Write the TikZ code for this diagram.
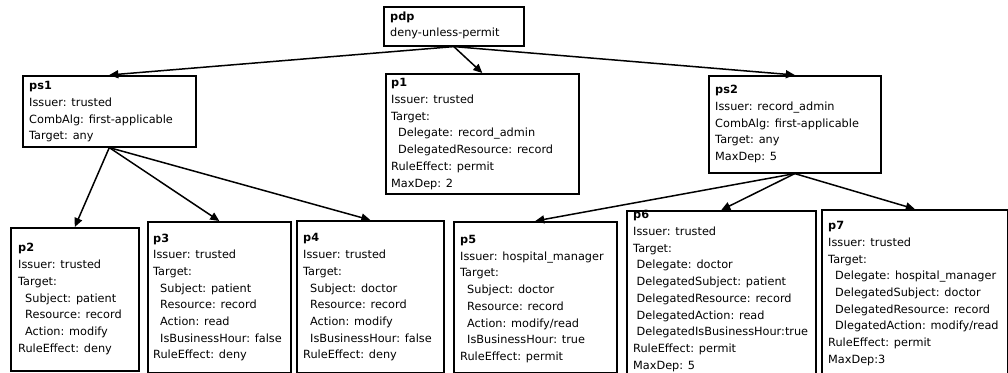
\documentclass[tikz,border=0pt]{standalone}
\usepackage{fontspec}
\setmainfont{DejaVu Sans}
\usetikzlibrary{arrows.meta}
\tikzset{
  box/.style={draw=black, line width=1.6pt, fill=white, inner sep=0pt, anchor=north west},
  txt/.style={font=\fontsize{11.3}{16.7}\selectfont, align=left, inner sep=0pt, anchor=west},
  arr/.style={line width=1.5pt, -{Triangle[length=9pt,width=8pt]}}
}
\newcommand{\ind}{\hspace*{7pt}}
\begin{document}
\begin{tikzpicture}[x=1pt,y=-1pt]
\useasboundingbox (0,0) rectangle (1008,372);
% boxes
\node[box, minimum width=140pt, minimum height=39pt] (pdp) at (383,6) {};
\node[box, minimum width=173pt, minimum height=71pt] (ps1) at (22,75) {};
\node[box, minimum width=193pt, minimum height=120pt] (p1) at (385,73) {};
\node[box, minimum width=172pt, minimum height=97pt] (ps2) at (708,75) {};
\node[box, minimum width=128pt, minimum height=143pt] (p2) at (10,227) {};
\node[box, minimum width=143pt, minimum height=150.5pt] (p3) at (147,221) {};
\node[box, minimum width=147pt, minimum height=151.5pt] (p4) at (296,220) {};
\node[box, minimum width=163pt, minimum height=151pt] (p5) at (453,221) {};
\node[box, minimum width=189pt, minimum height=170pt] (p6) at (626,210) {};
\node[box, minimum width=186pt, minimum height=170pt] (p7) at (821,209) {};
% texts
\node[txt] (pdpt) at (390,25.5) {\textbf{pdp}\\deny-unless-permit};
\node[txt] (ps1t) at (29,112) {\textbf{ps1}\\Issuer: trusted\\CombAlg: first-applicable\\Target: any};
\node[txt] (p1t) at (391,134) {\textbf{p1}\\Issuer: trusted\\Target:\\\ind Delegate: record\_admin\\\ind DelegatedResource: record\\RuleEffect: permit\\MaxDep: 2};
\node[txt] (ps2t) at (715,124) {\textbf{ps2}\\Issuer: record\_admin\\CombAlg: first-applicable\\Target: any\\MaxDep: 5};
\node[txt] (p2t) at (18,299) {\textbf{p2}\\Issuer: trusted\\Target:\\\ind Subject: patient\\\ind Resource: record\\\ind Action: modify\\RuleEffect: deny};
\node[txt] (p3t) at (153,297.5) {\textbf{p3}\\Issuer: trusted\\Target:\\\ind Subject: patient\\\ind Resource: record\\\ind Action: read\\\ind IsBusinessHour: false\\RuleEffect: deny};
\node[txt] (p4t) at (303,297.5) {\textbf{p4}\\Issuer: trusted\\Target:\\\ind Subject: doctor\\\ind Resource: record\\\ind Action: modify\\\ind IsBusinessHour: false\\RuleEffect: deny};
\node[txt] (p5t) at (460,299) {\textbf{p5}\\Issuer: hospital\_manager\\Target:\\\ind Subject: doctor\\\ind Resource: record\\\ind Action: modify/read\\\ind IsBusinessHour: true\\RuleEffect: permit};
\node[txt] (p6t) at (633,291) {\textbf{p6}\\Issuer: trusted\\Target:\\\hspace*{3.5pt}Delegate: doctor\\\hspace*{3.5pt}DelegatedSubject: patient\\\hspace*{3.5pt}DelegatedResource: record\\\hspace*{3.5pt}DelegatedAction: read\\\hspace*{3.5pt}DelegatedIsBusinessHour:true\\RuleEffect: permit\\MaxDep: 5};
\node[txt] (p7t) at (828,293.5) {\textbf{p7}\\Issuer: trusted\\Target:\\\ind Delegate: hospital\_manager\\\ind DelegatedSubject: doctor\\\ind DelegatedResource: record\\\ind DlegatedAction: modify/read\\RuleEffect: permit\\MaxDep:3};
% edges
\draw[arr] (pdp.south) -- (ps1.north);
\draw[arr] (pdp.south) -- (p1.north);
\draw[arr] (pdp.south) -- (ps2.north);
\draw[arr] (ps1.south) -- (p2.north);
\draw[arr] (ps1.south) -- (p3.north);
\draw[arr] (ps1.south) -- (p4.north);
\draw[arr] (ps2.south) -- (p5.north);
\draw[arr] (ps2.south) -- (p6.north);
\draw[arr] (ps2.south) -- (p7.north);
\end{tikzpicture}
\end{document}
